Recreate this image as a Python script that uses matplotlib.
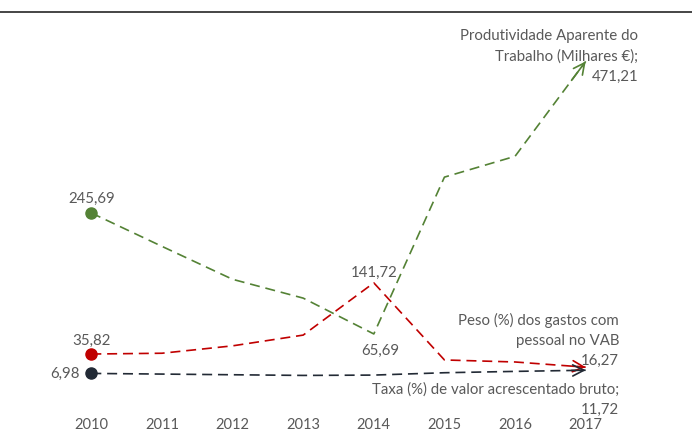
import matplotlib.pyplot as plt
from matplotlib.lines import Line2D

years = [2010, 2011, 2012, 2013, 2014, 2015, 2016, 2017]
produtividade = [245.69, 196, 147, 119, 65.69, 299, 330, 471.21]
peso_gastos = [35.82, 37, 48, 64, 141.72, 27, 24, 16.27]
taxa_vab = [6.98, 6, 5, 4, 4.5, 8, 10, 11.72]

green = '#548235'
red = '#C00000'
navy = '#222A35'
grey = '#595959'

plt.rcParams['font.family'] = ['Lato', 'DejaVu Sans']

fig = plt.figure(figsize=(6.92, 4.32), dpi=100)
ax = fig.add_axes([56 / 692, 27 / 432, 565 / 692, 365 / 432])

for vals, col in [(produtividade, green), (peso_gastos, red), (taxa_vab, navy)]:
    ax.plot(years, vals, color=col, lw=1.2, linestyle=(0, (6, 3.5)))
    ax.plot(years[0], vals[0], 'o', color=col, ms=8, zorder=5)
    # open arrow head at the end of the series
    x0, y0 = years[-2], vals[-2]
    x1, y1 = years[-1], vals[-1]
    t = 0.2
    ax.annotate('', xy=(x1, y1), xytext=(x1 - (x1 - x0) * t, y1 - (y1 - y0) * t),
                arrowprops=dict(arrowstyle='->,head_length=0.8,head_width=0.4',
                                color=col, lw=1.2, shrinkA=0, shrinkB=0))

ax.set_xlim(2009.5, 2017.5)
ax.set_ylim(-40, 503)
ax.set_xticks(years)
ax.set_xticklabels([str(y) for y in years])
ax.tick_params(axis='x', length=0, pad=9.5, labelsize=10.5, colors=grey)
ax.set_yticks([])
for s in ax.spines.values():
    s.set_visible(False)

fs = 10.8
ax.annotate('245,69', (2010, 245.69), xytext=(0, 5), textcoords='offset points',
            ha='center', va='bottom', fontsize=fs, color=grey)
ax.annotate('35,82', (2010, 35.82), xytext=(0, 4.5), textcoords='offset points',
            ha='center', va='bottom', fontsize=fs, color=grey)
ax.annotate('6,98', (2010, 6.98), xytext=(-8, 0), textcoords='offset points',
            ha='right', va='center', fontsize=fs, color=grey)
ax.annotate('141,72', (2014, 141.72), xytext=(0, 2), textcoords='offset points',
            ha='center', va='bottom', fontsize=fs, color=grey)
ax.annotate('65,69', (2014, 65.69), xytext=(5, -7), textcoords='offset points',
            ha='center', va='top', fontsize=fs, color=grey)
ax.annotate('Produtividade Aparente do\nTrabalho (Milhares €);\n471,21', (2017, 471.21),
            xytext=(38, 3.5), textcoords='offset points', ha='right', va='center',
            fontsize=fs, color=grey, linespacing=1.6)
ax.annotate('Peso (%) dos gastos com\npessoal no VAB\n16,27', (2017, 16.27),
            xytext=(24, 19.5), textcoords='offset points', ha='right', va='center',
            fontsize=fs, color=grey, linespacing=1.55)
ax.annotate('Taxa (%) de valor acrescentado bruto;\n11,72', (2017, 11.72),
            xytext=(24, -21), textcoords='offset points', ha='right', va='center',
            fontsize=fs, color=grey, linespacing=1.55)

fig.add_artist(Line2D([0, 1], [1 - 12 / 432, 1 - 12 / 432], color='#262626', lw=1.2,
                      transform=fig.transFigure))

fig.savefig('out.png', dpi=100)
